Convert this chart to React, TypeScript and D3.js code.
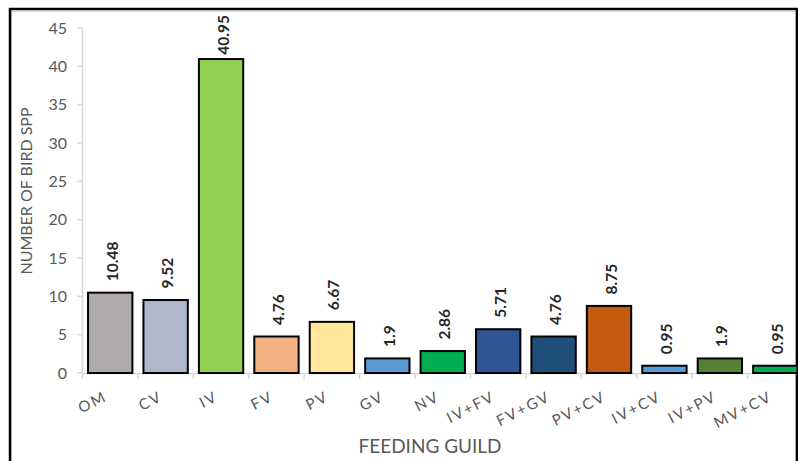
import React, { useEffect, useRef } from "react";
import * as d3 from "d3";

const guilds = ["OM", "CV", "IV", "FV", "PV", "GV", "NV", "IV+FV", "FV+GV", "PV+CV", "IV+CV", "IV+PV", "MV+CV"];
const percentages = [10.48, 9.52, 40.95, 4.76, 6.67, 1.9, 2.86, 5.71, 4.76, 8.75, 0.95, 1.9, 0.95];
const barColors = ["#aeaaaa", "#adb9ca", "#92d050", "#f4b183", "#ffe699", "#5b9bd5", "#00b050", "#2f5597", "#1f4e79", "#c55a11", "#5b9bd5", "#548235", "#00b050"];
const yTicks = [0, 5, 10, 15, 20, 25, 30, 35, 40, 45];

const App = () => {
  const svgRef = useRef<SVGSVGElement>(null);

  useEffect(() => {
    const width = 798;
    const height = 461;
    const axisGray = "#d9d9d9";
    const textGray = "#595959";
    const font = "Lato, 'Open Sans', sans-serif";

    const svg = d3.select(svgRef.current)
      .attr("width", width)
      .attr("height", height);
    svg.selectAll("*").remove();

    // outer frame
    svg.append("rect")
      .attr("x", 0).attr("y", 0).attr("width", width).attr("height", height)
      .attr("fill", "#fff");
    svg.append("rect")
      .attr("x", 11.5).attr("y", 11.5).attr("width", 784).attr("height", 470)
      .attr("fill", "none").attr("stroke", axisGray).attr("stroke-width", 1);
    svg.append("rect")
      .attr("x", 10).attr("y", 9).attr("width", 787).attr("height", 470)
      .attr("fill", "none").attr("stroke", "#000").attr("stroke-width", 2.5);

    const xScale = d3.scaleBand<string>()
      .domain(guilds)
      .range([82.5, 803])
      .padding(0);

    const yScale = d3.scaleLinear()
      .domain([0, 45])
      .range([373, 28]);

    const bw = xScale.bandwidth();

    // y axis
    const yAxis = svg.append("g");
    yAxis.append("line")
      .attr("x1", 82.5).attr("x2", 82.5)
      .attr("y1", yScale(45)).attr("y2", yScale(0))
      .attr("stroke", axisGray).attr("stroke-width", 1.5);
    yAxis.selectAll("line.tick")
      .data(yTicks)
      .join("line")
      .attr("class", "tick")
      .attr("x1", 77).attr("x2", 82.5)
      .attr("y1", d => yScale(d)).attr("y2", d => yScale(d))
      .attr("stroke", axisGray).attr("stroke-width", 1.5);
    yAxis.selectAll("text")
      .data(yTicks)
      .join("text")
      .attr("x", 67)
      .attr("y", d => yScale(d))
      .attr("dy", "0.36em")
      .attr("text-anchor", "end")
      .attr("font-family", font)
      .attr("font-size", 16)
      .attr("fill", textGray)
      .text(d => d);

    // x axis
    const xAxis = svg.append("g");
    xAxis.append("line")
      .attr("x1", 82.5).attr("x2", width)
      .attr("y1", 373.5).attr("y2", 373.5)
      .attr("stroke", axisGray).attr("stroke-width", 1.5);
    xAxis.selectAll("line.tick")
      .data(guilds)
      .join("line")
      .attr("class", "tick")
      .attr("x1", d => xScale(d)!).attr("x2", d => xScale(d)!)
      .attr("y1", 373.5).attr("y2", 379)
      .attr("stroke", axisGray).attr("stroke-width", 1.5);
    xAxis.selectAll("text")
      .data(guilds)
      .join("text")
      .attr("transform", d => `translate(${xScale(d)! + bw / 2 - 2},400) rotate(-27)`)
      .attr("text-anchor", "end")
      .attr("font-family", font)
      .attr("font-size", 15)
      .attr("letter-spacing", 2)
      .attr("fill", textGray)
      .text(d => d);

    // bars
    svg.selectAll("rect.bar")
      .data(guilds)
      .join("rect")
      .attr("class", "bar")
      .attr("x", d => xScale(d)! + bw * 0.1)
      .attr("y", (d, i) => yScale(percentages[i]))
      .attr("width", bw * 0.8)
      .attr("height", (d, i) => yScale(0) - yScale(percentages[i]))
      .attr("fill", (d, i) => barColors[i])
      .attr("stroke", "#000")
      .attr("stroke-width", 2);

    // value labels, kept inside the plot area like Excel does
    const labels = svg.selectAll("text.value")
      .data(guilds)
      .join("text")
      .attr("class", "value")
      .attr("font-family", font)
      .attr("font-size", 15.5)
      .attr("font-weight", "bold")
      .attr("fill", "#262626")
      .text((d, i) => String(percentages[i]));
    labels.each(function (d, i) {
      const node = this as SVGTextElement;
      const len = node.getComputedTextLength();
      const start = Math.max(yScale(percentages[i]) - 11.5, 15 + len);
      d3.select(node).attr("transform", `translate(${xScale(d)! + bw / 2 + 7.5},${start}) rotate(-90)`);
    });

    // axis titles
    svg.append("text")
      .attr("x", 430)
      .attr("y", 452.5)
      .attr("text-anchor", "middle")
      .attr("font-family", font)
      .attr("font-size", 19)
      .attr("fill", textGray)
      .text("FEEDING GUILD");
    svg.append("text")
      .attr("transform", "translate(32,191) rotate(-90)")
      .attr("text-anchor", "middle")
      .attr("font-family", font)
      .attr("font-size", 16)
      .attr("fill", textGray)
      .text("NUMBER OF BIRD SPP");
  }, []);

  return <svg ref={svgRef} style={{ position: "absolute", left: 0, top: 0, display: "block" }} />;
};

export default App;
